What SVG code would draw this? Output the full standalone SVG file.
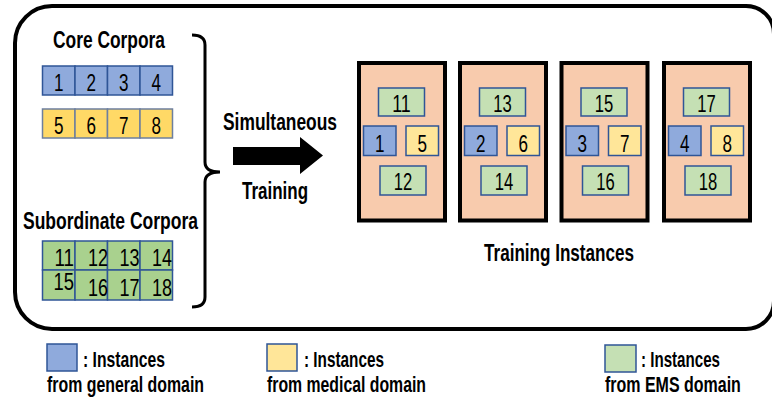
<svg xmlns="http://www.w3.org/2000/svg" width="772" height="404" viewBox="0 0 772 404">
  <style>
    text { font-family: "Liberation Sans", Arial, sans-serif; fill: #000; }
    .title { font-weight: bold; font-size: 23px; }
    .num { font-size: 23px; text-anchor: middle; }
    .num-end { font-size: 23px; text-anchor: end; }
    .leg { font-weight: bold; font-size: 22px; }
    .frame { fill: none; stroke: #000; stroke-width: 4; }
    .panel { fill: #F8CBAD; stroke: #000; stroke-width: 4; }
    .gen { fill: #8FAADC; stroke: #2F5597; stroke-width: 1.5; }
    .med-core { fill: #FFD966; stroke: #6D7F9E; stroke-width: 1.5; }
    .med { fill: #FFE699; stroke: #2F5597; stroke-width: 1.5; }
    .ems-core { fill: #A9D18E; stroke: #2F5597; stroke-width: 1.5; }
    .ems { fill: #C5E0B4; stroke: #2F5597; stroke-width: 1.5; }
    .brace { fill: none; stroke: #000; stroke-width: 3; }
  </style>

  <!-- outer frame around everything except the legend -->
  <path id="frame" class="frame" d="M52,6 L746,6 A28,28 0 0 1 774,34 L774,301 A28,28 0 0 1 746,329 L52,329 A37,37 0 0 1 15,292 L15,43 A37,37 0 0 1 52,6 Z"/>

  <!-- core corpora: general (blue) and medical (yellow) rows -->
  <g id="core-corpora">
    <text class="title" x="53" y="48" textLength="112" lengthAdjust="spacingAndGlyphs">Core Corpora</text>
    <rect class="gen" x="42.5" y="66" width="32.5" height="29"/>
    <rect class="gen" x="75" y="66" width="32.5" height="29"/>
    <rect class="gen" x="107.5" y="66" width="32.5" height="29"/>
    <rect class="gen" x="140" y="66" width="32.5" height="29"/>
    <text class="num" x="58.75" y="91" textLength="9.5" lengthAdjust="spacingAndGlyphs">1</text>
    <text class="num" x="91.25" y="91" textLength="9.5" lengthAdjust="spacingAndGlyphs">2</text>
    <text class="num" x="123.75" y="91" textLength="9.5" lengthAdjust="spacingAndGlyphs">3</text>
    <text class="num" x="156.25" y="91" textLength="9.5" lengthAdjust="spacingAndGlyphs">4</text>
    <rect class="med-core" x="42.5" y="109" width="32.5" height="29"/>
    <rect class="med-core" x="75" y="109" width="32.5" height="29"/>
    <rect class="med-core" x="107.5" y="109" width="32.5" height="29"/>
    <rect class="med-core" x="140" y="109" width="32.5" height="29"/>
    <text class="num" x="58.75" y="134" textLength="9.5" lengthAdjust="spacingAndGlyphs">5</text>
    <text class="num" x="91.25" y="134" textLength="9.5" lengthAdjust="spacingAndGlyphs">6</text>
    <text class="num" x="123.75" y="134" textLength="9.5" lengthAdjust="spacingAndGlyphs">7</text>
    <text class="num" x="156.25" y="134" textLength="9.5" lengthAdjust="spacingAndGlyphs">8</text>
  </g>

  <!-- subordinate corpora: EMS (green) 2x4 grid -->
  <g id="subordinate-corpora">
    <text class="title" x="23" y="229" textLength="175" lengthAdjust="spacingAndGlyphs">Subordinate Corpora</text>
    <rect class="ems-core" x="42.5" y="241" width="32.5" height="29"/>
    <rect class="ems-core" x="75" y="241" width="32.5" height="29"/>
    <rect class="ems-core" x="107.5" y="241" width="32.5" height="29"/>
    <rect class="ems-core" x="140" y="241" width="32.5" height="29"/>
    <rect class="ems-core" x="42.5" y="270" width="32.5" height="30"/>
    <rect class="ems-core" x="75" y="270" width="32.5" height="30"/>
    <rect class="ems-core" x="107.5" y="270" width="32.5" height="30"/>
    <rect class="ems-core" x="140" y="270" width="32.5" height="30"/>
    <text class="num-end" x="74" y="266" textLength="19.5" lengthAdjust="spacingAndGlyphs">11</text>
    <text class="num-end" x="108" y="266" textLength="20" lengthAdjust="spacingAndGlyphs">12</text>
    <text class="num-end" x="139.5" y="266" textLength="20" lengthAdjust="spacingAndGlyphs">13</text>
    <text class="num-end" x="172" y="266" textLength="20" lengthAdjust="spacingAndGlyphs">14</text>
    <text class="num-end" x="74" y="290" textLength="20.5" lengthAdjust="spacingAndGlyphs">15</text>
    <text class="num-end" x="108" y="295.5" textLength="20" lengthAdjust="spacingAndGlyphs">16</text>
    <text class="num-end" x="139.5" y="295.5" textLength="20" lengthAdjust="spacingAndGlyphs">17</text>
    <text class="num-end" x="172" y="295.5" textLength="20" lengthAdjust="spacingAndGlyphs">18</text>
  </g>

  <!-- connectors: brace gathering both corpora, arrow into the instances -->
  <g id="connectors">
    <path class="brace" d="M192,35 Q205,35 205,45 L205,162 Q205,172 220,172 Q205,172 205,182 L205,297 Q205,307 192,307"/>
    <polygon points="233,147 300,147 300,137 323,155.5 300,174 300,165 233,165" fill="#000"/>
    <text class="title" x="223" y="130" textLength="114" lengthAdjust="spacingAndGlyphs">Simultaneous</text>
    <text class="title" x="242" y="199" textLength="66" lengthAdjust="spacingAndGlyphs">Training</text>
  </g>

  <!-- training instances: one panel per mixed batch -->
  <g id="instance-1">
    <rect class="panel" x="359" y="63" width="86" height="157.5"/>
    <rect class="ems" x="378.5" y="88" width="46" height="28"/>
    <rect class="gen" x="363.5" y="126" width="32.5" height="29.5"/>
    <rect class="med" x="406" y="126" width="32.5" height="29.5"/>
    <rect class="ems" x="380" y="166" width="46" height="29"/>
    <text class="num" x="401.5" y="111.5" textLength="18.5" lengthAdjust="spacingAndGlyphs">11</text>
    <text class="num" x="379.75" y="151.5" textLength="9.5" lengthAdjust="spacingAndGlyphs">1</text>
    <text class="num" x="422.25" y="151.5" textLength="9.5" lengthAdjust="spacingAndGlyphs">5</text>
    <text class="num" x="403" y="190" textLength="18.5" lengthAdjust="spacingAndGlyphs">12</text>
  </g>
  <g id="instance-2">
    <rect class="panel" x="460" y="63" width="86" height="157.5"/>
    <rect class="ems" x="479.5" y="88" width="46" height="28"/>
    <rect class="gen" x="464.5" y="126" width="32.5" height="29.5"/>
    <rect class="med" x="507" y="126" width="32.5" height="29.5"/>
    <rect class="ems" x="481" y="166" width="46" height="29"/>
    <text class="num" x="502.5" y="111.5" textLength="18.5" lengthAdjust="spacingAndGlyphs">13</text>
    <text class="num" x="480.75" y="151.5" textLength="9.5" lengthAdjust="spacingAndGlyphs">2</text>
    <text class="num" x="523.25" y="151.5" textLength="9.5" lengthAdjust="spacingAndGlyphs">6</text>
    <text class="num" x="504" y="190" textLength="18.5" lengthAdjust="spacingAndGlyphs">14</text>
  </g>
  <g id="instance-3">
    <rect class="panel" x="561.5" y="63" width="86" height="157.5"/>
    <rect class="ems" x="581" y="88" width="46" height="28"/>
    <rect class="gen" x="566" y="126" width="32.5" height="29.5"/>
    <rect class="med" x="608.5" y="126" width="32.5" height="29.5"/>
    <rect class="ems" x="582.5" y="166" width="46" height="29"/>
    <text class="num" x="604" y="111.5" textLength="18.5" lengthAdjust="spacingAndGlyphs">15</text>
    <text class="num" x="582.25" y="151.5" textLength="9.5" lengthAdjust="spacingAndGlyphs">3</text>
    <text class="num" x="624.75" y="151.5" textLength="9.5" lengthAdjust="spacingAndGlyphs">7</text>
    <text class="num" x="605.5" y="190" textLength="18.5" lengthAdjust="spacingAndGlyphs">16</text>
  </g>
  <g id="instance-4">
    <rect class="panel" x="664" y="63" width="86" height="157.5"/>
    <rect class="ems" x="683.5" y="88" width="46" height="28"/>
    <rect class="gen" x="668.5" y="126" width="32.5" height="29.5"/>
    <rect class="med" x="711" y="126" width="32.5" height="29.5"/>
    <rect class="ems" x="685" y="166" width="46" height="29"/>
    <text class="num" x="706.5" y="111.5" textLength="18.5" lengthAdjust="spacingAndGlyphs">17</text>
    <text class="num" x="684.75" y="151.5" textLength="9.5" lengthAdjust="spacingAndGlyphs">4</text>
    <text class="num" x="727.25" y="151.5" textLength="9.5" lengthAdjust="spacingAndGlyphs">8</text>
    <text class="num" x="708" y="190" textLength="18.5" lengthAdjust="spacingAndGlyphs">18</text>
  </g>
  <text id="instances-label" class="title" x="484" y="261" textLength="150" lengthAdjust="spacingAndGlyphs">Training Instances</text>

  <!-- legend -->
  <g id="legend">
    <rect class="gen" x="47" y="344" width="30" height="27"/>
    <text class="leg" x="83" y="367" textLength="82" lengthAdjust="spacingAndGlyphs">: Instances</text>
    <text class="leg" x="47" y="392" textLength="157" lengthAdjust="spacingAndGlyphs">from general domain</text>

    <rect class="med" x="267" y="344" width="30" height="27"/>
    <text class="leg" x="304" y="367" textLength="80" lengthAdjust="spacingAndGlyphs">: Instances</text>
    <text class="leg" x="267" y="392" textLength="159" lengthAdjust="spacingAndGlyphs">from medical domain</text>

    <rect class="ems" x="605" y="345" width="31" height="27"/>
    <text class="leg" x="641" y="367" textLength="79" lengthAdjust="spacingAndGlyphs">: Instances</text>
    <text class="leg" transform="translate(605,392) scale(0.727,1)">from EMS domain</text>
  </g>
</svg>
